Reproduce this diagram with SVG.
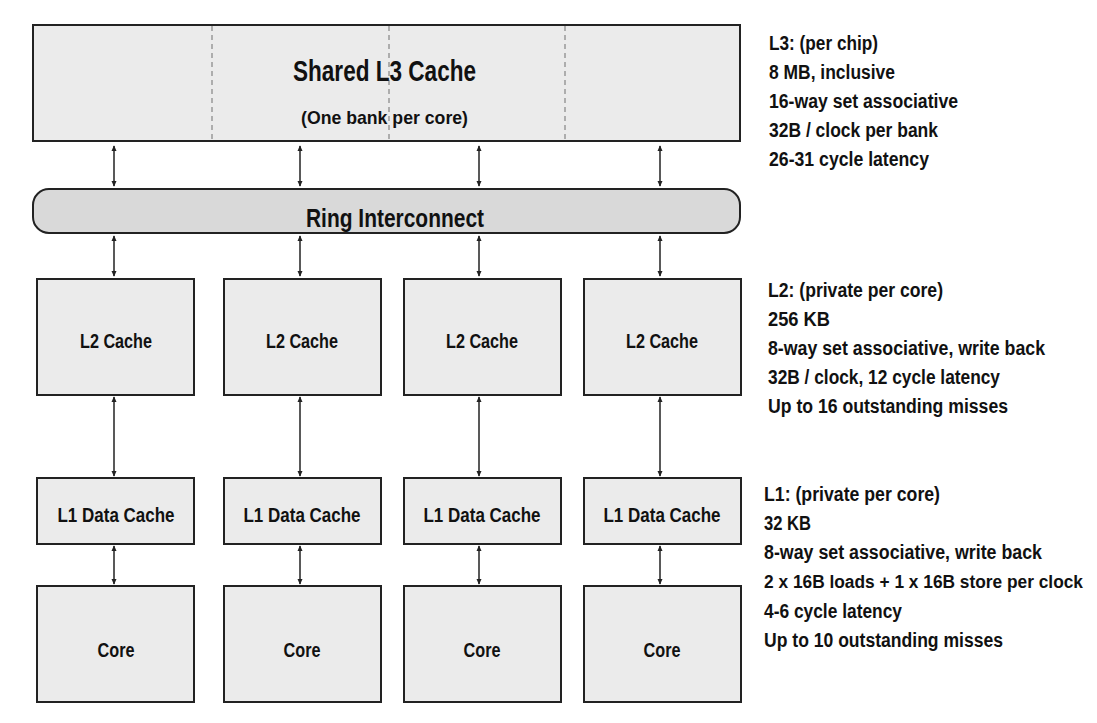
<svg xmlns="http://www.w3.org/2000/svg" width="1097" height="723" viewBox="0 0 1097 723">
<style>
text{font-family:"Liberation Sans",Arial,sans-serif;font-weight:bold;fill:#111}
.box{fill:#ebebeb;stroke:#222;stroke-width:2}
.lbl{font-size:20px;text-anchor:middle;dominant-baseline:central}
.note{font-size:20px}
.con line{stroke:#222;stroke-width:1.5;marker-start:url(#a);marker-end:url(#a)}
.dash{stroke:#999;stroke-width:1.5;stroke-dasharray:5,4}
</style>
<defs>
<marker id="a" viewBox="0 0 8 8" refX="7" refY="4" markerWidth="4" markerHeight="4" orient="auto-start-reverse" markerUnits="strokeWidth">
<path d="M0,0.5 L8,4 L0,7.5 Z" fill="#222"/>
</marker>
</defs>
<rect width="1097" height="723" fill="#fff"/>
<g id="l3">
<rect class="box" x="33" y="25" width="707" height="116"/>
<line class="dash" x1="212" y1="26" x2="212" y2="140"/>
<line class="dash" x1="389" y1="26" x2="389" y2="140"/>
<line class="dash" x1="565" y1="26" x2="565" y2="140"/>
<text x="384.5" y="70" textLength="183" lengthAdjust="spacingAndGlyphs" style="font-size:30px;text-anchor:middle;dominant-baseline:central">Shared L3 Cache</text>
<text x="384.5" y="117" textLength="167" lengthAdjust="spacingAndGlyphs" style="font-size:19px;text-anchor:middle;dominant-baseline:central">(One bank per core)</text>
</g>
<g id="ring">
<rect x="33" y="189" width="707" height="44" rx="16" fill="#d9d9d9" stroke="#222" stroke-width="2"/>
<text x="395" y="218" textLength="178" lengthAdjust="spacingAndGlyphs" style="font-size:25px;text-anchor:middle;dominant-baseline:central">Ring Interconnect</text>
</g>
<g id="l2-1"><rect class="box" x="37" y="279" width="157" height="116"/><text class="lbl" x="116" y="341" textLength="72" lengthAdjust="spacingAndGlyphs">L2 Cache</text></g>
<g id="l2-2"><rect class="box" x="224" y="279" width="157" height="116"/><text class="lbl" x="302" y="341" textLength="72" lengthAdjust="spacingAndGlyphs">L2 Cache</text></g>
<g id="l2-3"><rect class="box" x="404" y="279" width="157" height="116"/><text class="lbl" x="482" y="341" textLength="72" lengthAdjust="spacingAndGlyphs">L2 Cache</text></g>
<g id="l2-4"><rect class="box" x="584" y="279" width="157" height="116"/><text class="lbl" x="662" y="341" textLength="72" lengthAdjust="spacingAndGlyphs">L2 Cache</text></g>
<g id="l1-1"><rect class="box" x="37" y="478" width="157" height="66"/><text class="lbl" x="116" y="515" textLength="117" lengthAdjust="spacingAndGlyphs">L1 Data Cache</text></g>
<g id="l1-2"><rect class="box" x="224" y="478" width="157" height="66"/><text class="lbl" x="302" y="515" textLength="117" lengthAdjust="spacingAndGlyphs">L1 Data Cache</text></g>
<g id="l1-3"><rect class="box" x="404" y="478" width="157" height="66"/><text class="lbl" x="482" y="515" textLength="117" lengthAdjust="spacingAndGlyphs">L1 Data Cache</text></g>
<g id="l1-4"><rect class="box" x="584" y="478" width="157" height="66"/><text class="lbl" x="662" y="515" textLength="117" lengthAdjust="spacingAndGlyphs">L1 Data Cache</text></g>
<g id="core-1"><rect class="box" x="37" y="586" width="157" height="116"/><text class="lbl" x="116" y="650" textLength="37" lengthAdjust="spacingAndGlyphs">Core</text></g>
<g id="core-2"><rect class="box" x="224" y="586" width="157" height="116"/><text class="lbl" x="302" y="650" textLength="37" lengthAdjust="spacingAndGlyphs">Core</text></g>
<g id="core-3"><rect class="box" x="404" y="586" width="157" height="116"/><text class="lbl" x="482" y="650" textLength="37" lengthAdjust="spacingAndGlyphs">Core</text></g>
<g id="core-4"><rect class="box" x="584" y="586" width="157" height="116"/><text class="lbl" x="662" y="650" textLength="37" lengthAdjust="spacingAndGlyphs">Core</text></g>
<g class="con" id="connectors">
<line x1="114" y1="146" x2="114" y2="186"/>
<line x1="300" y1="146" x2="300" y2="186"/>
<line x1="479" y1="146" x2="479" y2="186"/>
<line x1="660" y1="146" x2="660" y2="186"/>
<line x1="114" y1="236" x2="114" y2="276"/>
<line x1="300" y1="236" x2="300" y2="276"/>
<line x1="479" y1="236" x2="479" y2="276"/>
<line x1="660" y1="236" x2="660" y2="276"/>
<line x1="114" y1="397" x2="114" y2="476"/>
<line x1="300" y1="397" x2="300" y2="476"/>
<line x1="479" y1="397" x2="479" y2="476"/>
<line x1="660" y1="397" x2="660" y2="476"/>
<line x1="114" y1="546" x2="114" y2="584"/>
<line x1="300" y1="546" x2="300" y2="584"/>
<line x1="479" y1="546" x2="479" y2="584"/>
<line x1="660" y1="546" x2="660" y2="584"/>
</g>
<g id="notes-l3" class="note">
<text x="769" y="50" textLength="109" lengthAdjust="spacingAndGlyphs">L3: (per chip)</text>
<text x="769" y="79" textLength="126" lengthAdjust="spacingAndGlyphs">8 MB, inclusive</text>
<text x="769" y="108" textLength="189" lengthAdjust="spacingAndGlyphs">16-way set associative</text>
<text x="769" y="137" textLength="169" lengthAdjust="spacingAndGlyphs">32B / clock per bank</text>
<text x="769" y="166" textLength="160" lengthAdjust="spacingAndGlyphs">26-31 cycle latency</text>
</g>
<g id="notes-l2" class="note">
<text x="768" y="297" textLength="175" lengthAdjust="spacingAndGlyphs">L2: (private per core)</text>
<text x="768" y="326" textLength="62" lengthAdjust="spacingAndGlyphs">256  KB</text>
<text x="768" y="355" textLength="277" lengthAdjust="spacingAndGlyphs">8-way set associative, write back</text>
<text x="768" y="384" textLength="232" lengthAdjust="spacingAndGlyphs">32B / clock, 12 cycle latency</text>
<text x="768" y="413" textLength="240" lengthAdjust="spacingAndGlyphs">Up to 16 outstanding misses</text>
</g>
<g id="notes-l1" class="note">
<text x="764" y="501" textLength="176" lengthAdjust="spacingAndGlyphs">L1: (private per core)</text>
<text x="764" y="530" textLength="47" lengthAdjust="spacingAndGlyphs">32 KB</text>
<text x="764" y="559" textLength="278" lengthAdjust="spacingAndGlyphs">8-way set associative, write back</text>
<text x="764" y="588" textLength="319" lengthAdjust="spacingAndGlyphs" style="font-size:18px">2 x 16B loads + 1 x 16B store per clock</text>
<text x="764" y="618" textLength="138" lengthAdjust="spacingAndGlyphs">4-6 cycle latency</text>
<text x="764" y="647" textLength="239" lengthAdjust="spacingAndGlyphs">Up to 10 outstanding misses</text>
</g>
</svg>
